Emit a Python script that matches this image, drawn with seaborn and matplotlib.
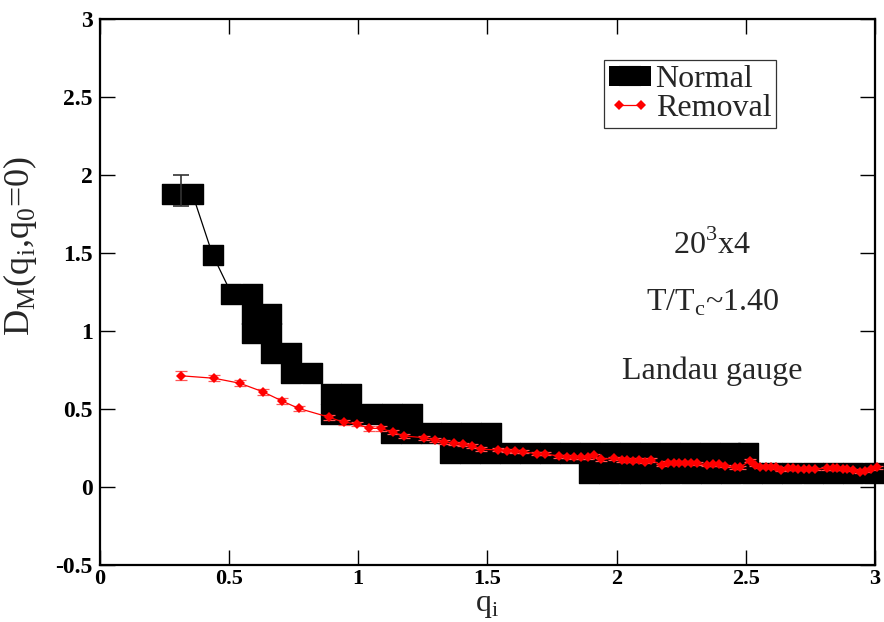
import numpy as np
import pandas as pd
import seaborn as sns
import matplotlib.pyplot as plt
from matplotlib.lines import Line2D

# Normal: big black squares (as drawn in the picture)
normal_x = [0.280, 0.360,
            0.437,
            0.510, 0.588,
            0.588, 0.665,
            0.588, 0.665,
            0.665, 0.742,
            0.742, 0.820,
            0.897, 0.974,
            0.897, 0.974, 1.054, 1.131, 1.208,
            1.127, 1.205, 1.282, 1.360, 1.437, 1.514,
            1.355, 1.433, 1.510, 1.587, 1.665, 1.742, 1.819, 1.897,
            1.974, 2.051, 2.129, 2.206, 2.283, 2.361, 2.438, 2.508,
            1.893, 1.972, 2.050, 2.129, 2.208, 2.287, 2.365, 2.444,
            2.523, 2.601, 2.680, 2.759, 2.838, 2.916, 2.995]
normal_y = [1.875, 1.875,
            1.490,
            1.240, 1.240,
            1.112, 1.112,
            0.984, 0.984,
            0.856, 0.856,
            0.728, 0.728,
            0.599, 0.599,
            0.471, 0.471, 0.471, 0.471, 0.471,
            0.346, 0.346, 0.346, 0.346, 0.346, 0.346,
            0.218, 0.218, 0.218, 0.218, 0.218, 0.218, 0.218, 0.218,
            0.218, 0.218, 0.218, 0.218, 0.218, 0.218, 0.218, 0.218,
            0.090, 0.090, 0.090, 0.090, 0.090, 0.090, 0.090, 0.090,
            0.090, 0.090, 0.090, 0.090, 0.090, 0.090, 0.090]
normal_err_x = [0.315]
normal_err_y = [1.90]
normal_err = [0.10]

# Removal: red diamonds with error bars
removal_x = [0.315, 0.444, 0.543, 0.631, 0.704, 0.770, 0.889, 0.944, 0.997, 1.042,
             1.089, 1.134, 1.178, 1.256, 1.297, 1.333, 1.371, 1.407, 1.442, 1.475,
             1.540, 1.575, 1.607, 1.637, 1.693, 1.724, 1.778, 1.807, 1.835, 1.862,
             1.888, 1.913, 1.938, 1.991, 2.019, 2.041, 2.064, 2.086, 2.109, 2.133,
             2.174, 2.200, 2.222, 2.242, 2.264, 2.287, 2.309, 2.350, 2.374, 2.396,
             2.419, 2.457, 2.477, 2.516, 2.535, 2.554, 2.576, 2.599, 2.616, 2.635,
             2.664, 2.683, 2.702, 2.724, 2.745, 2.767, 2.812, 2.835, 2.853, 2.874,
             2.893, 2.915, 2.941, 2.960, 2.982, 3.008]
removal_y = [0.713, 0.697, 0.665, 0.611, 0.553, 0.504, 0.447, 0.415, 0.404, 0.376,
             0.376, 0.351, 0.327, 0.316, 0.302, 0.289, 0.279, 0.273, 0.265, 0.242,
             0.238, 0.233, 0.229, 0.226, 0.213, 0.213, 0.197, 0.194, 0.190, 0.192,
             0.192, 0.203, 0.178, 0.184, 0.173, 0.173, 0.169, 0.173, 0.162, 0.173,
             0.141, 0.156, 0.156, 0.156, 0.156, 0.156, 0.152, 0.141, 0.145, 0.145,
             0.135, 0.126, 0.126, 0.169, 0.141, 0.130, 0.130, 0.130, 0.126, 0.109,
             0.120, 0.120, 0.117, 0.117, 0.117, 0.117, 0.120, 0.120, 0.120, 0.117,
             0.117, 0.109, 0.098, 0.102, 0.115, 0.126]
removal_err = [0.030, 0.018, 0.020, 0.020, 0.020, 0.018, 0.016, 0.016, 0.015, 0.015,
               0.015, 0.014, 0.014, 0.013, 0.013, 0.012, 0.012, 0.012, 0.012, 0.012,
               0.010, 0.010, 0.010, 0.010, 0.010, 0.010, 0.010, 0.010, 0.010, 0.010,
               0.010, 0.010, 0.010, 0.010, 0.010, 0.010, 0.010, 0.010, 0.010, 0.010,
               0.008, 0.008, 0.008, 0.008, 0.008, 0.008, 0.008, 0.008, 0.008, 0.008,
               0.008, 0.008, 0.008, 0.008, 0.008, 0.008, 0.008, 0.008, 0.008, 0.008,
               0.008, 0.008, 0.008, 0.008, 0.008, 0.008, 0.008, 0.008, 0.008, 0.008,
               0.008, 0.008, 0.008, 0.008, 0.008, 0.008]

xticks = [0, 0.5, 1, 1.5, 2, 2.5, 3]
xtick_labels = ['0', '0.5', '1', '1.5', '2', '2.5', '3']
yticks = [-0.5, 0, 0.5, 1, 1.5, 2, 2.5, 3]
ytick_labels = ['-0.5', '0', '0.5', '1', '1.5', '2', '2.5', '3']

sns.set_theme(style='ticks')
plt.rcParams['font.family'] = ['Liberation Serif', 'DejaVu Serif']
plt.rcParams['mathtext.fontset'] = 'custom'
plt.rcParams['mathtext.rm'] = 'Liberation Serif'

fig = plt.figure(figsize=(8.84, 6.22), dpi=100)
ax = fig.add_axes([0.1126, 0.0916, 0.8774, 0.8779])

normal = pd.DataFrame({'x': normal_x, 'y': normal_y})
removal = pd.DataFrame({'x': removal_x, 'y': removal_y, 'err': removal_err})

sns.lineplot(data=normal, x='x', y='y', sort=False, color='black', lw=0.9, ax=ax,
             estimator=None, zorder=2)
sns.scatterplot(data=normal, x='x', y='y', marker='s', s=225, color='black',
                edgecolor='black', linewidth=1.0, ax=ax, clip_on=False, zorder=3)
ax.errorbar(normal_err_x, normal_err_y, yerr=normal_err, fmt='none', ecolor='#333333',
            elinewidth=1.2, capsize=6, capthick=1.2, zorder=3)

ax.errorbar(removal['x'], removal['y'], yerr=removal['err'], fmt='none',
            ecolor='#ff5555', elinewidth=0.9, capsize=4, capthick=0.9, zorder=4,
            clip_on=False)
sns.lineplot(data=removal, x='x', y='y', sort=False, color='red', lw=0.9,
             marker='D', markersize=5, markeredgewidth=0, ax=ax, estimator=None,
             zorder=5, clip_on=False)

ax.set_xlim(0, 3)
ax.set_ylim(-0.5, 3)
ax.set_xticks(xticks)
ax.set_xticklabels(xtick_labels, fontweight='bold', fontfamily='Liberation Serif',
                   fontsize=16)
ax.set_yticks(yticks)
ax.set_yticklabels(ytick_labels, fontweight='bold', fontfamily='Liberation Serif',
                   fontsize=17)
ax.tick_params(direction='in', length=11, width=1, top=True, right=True,
               colors='black', pad=5)
ax.tick_params(axis='x', pad=3)
for sp in ax.spines.values():
    sp.set_linewidth(1.6)
    sp.set_color('black')

ax.set_xlabel(r'q$_\mathregular{i}$', fontsize=23, labelpad=1)
ax.set_ylabel(r'D$_\mathregular{M}$(q$_\mathregular{i}$,q$_\mathregular{0}$=0)',
              fontsize=26)
ax.yaxis.set_label_coords(-0.078, 0.585)

ax.text(0.79, 0.585, r'20$^\mathregular{3}$x4', transform=ax.transAxes,
        ha='center', va='center', fontsize=23)
ax.text(0.79, 0.48, r'T/T$_\mathregular{c}$~1.40', transform=ax.transAxes,
        ha='center', va='center', fontsize=23)
ax.text(0.79, 0.355, 'Landau gauge', transform=ax.transAxes,
        ha='center', va='center', fontsize=23)

handles = [Line2D([0], [0], color='black', lw=14.5, solid_capstyle='butt',
                  marker='s', markersize=14.5, markeredgewidth=0),
           Line2D([0], [0], color='red', lw=0.9, marker='D', markersize=5,
                  markeredgewidth=0)]
leg = ax.legend(handles, ['Normal', 'Removal'], loc='upper left',
                bbox_to_anchor=(0.651, 0.925), borderaxespad=0, fontsize=23,
                frameon=True, fancybox=False, edgecolor='black', numpoints=2,
                handlelength=1.3, handletextpad=0.15, borderpad=0.15,
                labelspacing=0.0)
leg.get_frame().set_linewidth(0.9)

fig.savefig('out.png', dpi=100)
